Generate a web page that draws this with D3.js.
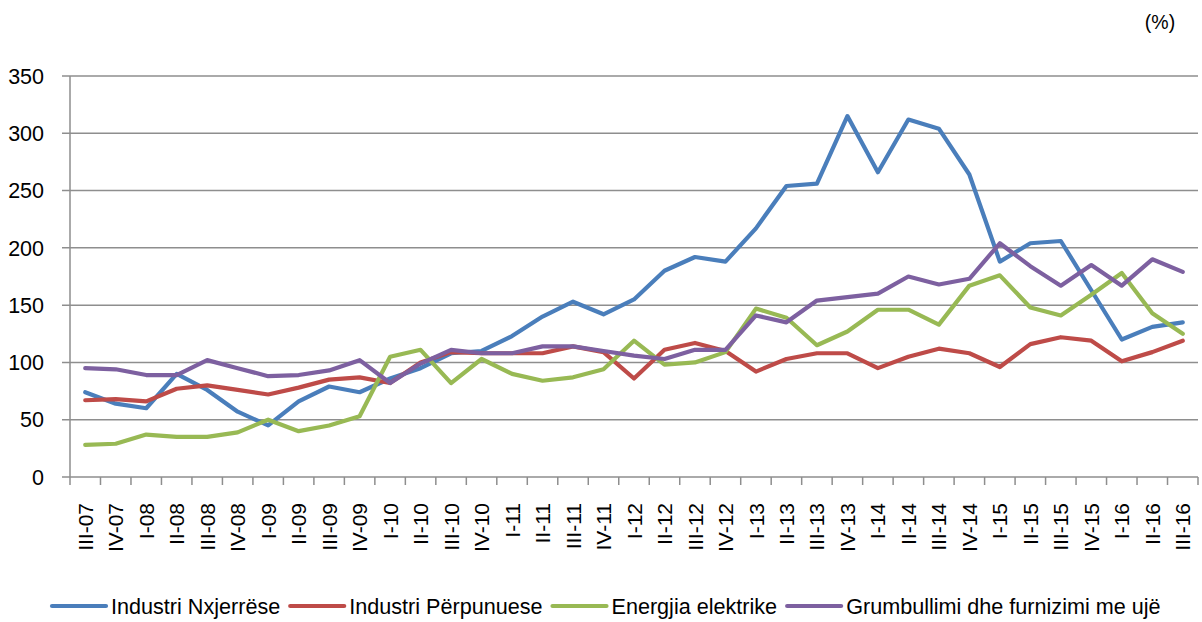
<!DOCTYPE html>
<html><head><meta charset="utf-8">
<script src="https://cdn.jsdelivr.net/npm/d3@7"></script>
<style>
html,body{margin:0;padding:0;background:#fff;}
svg text{font-family:"Liberation Sans",Arial,sans-serif;fill:#000;}
</style></head>
<body>
<svg id="chart" width="1202" height="622"></svg>
<script>
const categories = ["III-07","IV-07","I-08","II-08","III-08","IV-08","I-09","II-09","III-09","IV-09",
"I-10","II-10","III-10","IV-10","I-11","II-11","III-11","IV-11","I-12","II-12","III-12","IV-12",
"I-13","II-13","III-13","IV-13","I-14","II-14","III-14","IV-14","I-15","II-15","III-15","IV-15",
"I-16","II-16","III-16"];

const nxjerrese = [74,64,60,90,76,57,45,66,79,74,86,95,108,110,123,140,153,142,155,180,192,188,217,254,256,315,266,312,304,264,188,204,206,163,120,131,135];
const perpunuese = [67,68,66,77,80,76,72,78,85,87,82,100,109,108,108,108,114,109,86,111,117,110,92,103,108,108,95,105,112,108,96,116,122,119,101,109,119];
const energjia = [28,29,37,35,35,39,50,40,45,53,105,111,82,103,90,84,87,94,119,98,100,109,147,139,115,127,146,146,133,167,176,148,141,159,178,143,125];
const grumbullimi = [95,94,89,89,102,95,88,89,93,102,82,99,111,108,108,114,114,110,106,103,111,111,141,135,154,157,160,175,168,173,204,184,167,185,167,190,179];

const yTicks = [0,50,100,150,200,250,300,350];
const seriesNames = ["Industri Nxjerrëse","Industri Përpunuese","Energjia elektrike","Grumbullimi dhe furnizimi me ujë"];
const seriesColors = ["#4A7EBB","#BE4B48","#98B954","#7D60A0"];
const seriesData = [nxjerrese, perpunuese, energjia, grumbullimi];

(function(){
const svg = d3.select("#chart");
const pL = 70, pR = 1198, pT = 76, pB = 477;

const x = d3.scaleBand().domain(categories).range([pL, pR]).padding(0);
const y = d3.scaleLinear().domain([0, 350]).range([pB, pT]);

const gridColor = "#8E8E8E";
svg.append("g").selectAll("line").data(yTicks).join("line")
  .attr("x1", pL - 8).attr("x2", pR)
  .attr("y1", d => y(d)).attr("y2", d => y(d))
  .attr("stroke", gridColor).attr("stroke-width", 1.5);

svg.append("line").attr("x1", pL).attr("x2", pL).attr("y1", pT).attr("y2", pB)
  .attr("stroke", gridColor).attr("stroke-width", 1.5);

svg.append("g").selectAll("text").data(yTicks).join("text")
  .attr("x", 44).attr("y", d => y(d)).attr("dy", "0.36em")
  .attr("text-anchor", "end").attr("font-size", 21.5)
  .text(d => d);

const boundaries = categories.map(c => x(c)).concat([pR]);
svg.append("g").selectAll("line").data(boundaries).join("line")
  .attr("x1", d => d).attr("x2", d => d)
  .attr("y1", pB).attr("y2", pB + 8)
  .attr("stroke", gridColor).attr("stroke-width", 1.5);

svg.append("g").selectAll("text").data(categories).join("text")
  .attr("transform", d => `translate(${x(d) + x.bandwidth()/2},503) rotate(-90)`)
  .attr("text-anchor", "end").attr("dy", "0.36em").attr("font-size", 21)
  .text(d => d);

const line = d3.line()
  .x((d, i) => x(categories[i]) + x.bandwidth()/2)
  .y(d => y(d));

seriesData.forEach((s, k) => {
  svg.append("path").datum(s)
    .attr("fill", "none").attr("stroke", seriesColors[k])
    .attr("stroke-width", 4.2).attr("stroke-linejoin", "round").attr("stroke-linecap", "round")
    .attr("d", line);
});

svg.append("text").attr("x", 1160).attr("y", 29).attr("text-anchor", "middle")
  .attr("font-size", 19.5).text("(%)");

let lx = 52;
const ly = 606;
seriesNames.forEach((name, k) => {
  svg.append("line").attr("x1", lx).attr("x2", lx + 54).attr("y1", ly).attr("y2", ly)
    .attr("stroke", seriesColors[k]).attr("stroke-width", 4.2).attr("stroke-linecap", "round");
  const t = svg.append("text").attr("x", lx + 59).attr("y", ly).attr("dy", "0.36em")
    .attr("font-size", 21.6).text(name);
  lx = lx + 59 + t.node().getComputedTextLength() + 10;
});
})();
</script>
</body></html>
